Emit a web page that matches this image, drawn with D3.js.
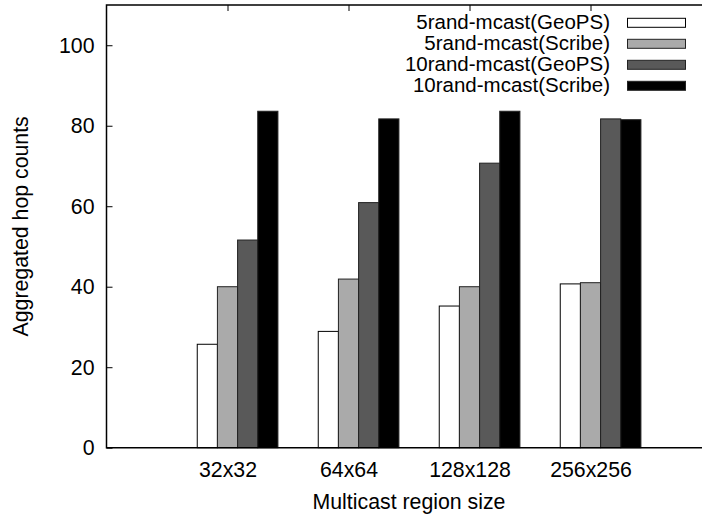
<!DOCTYPE html>
<html>
<head>
<meta charset="utf-8">
<script src="https://cdn.jsdelivr.net/npm/d3@7"></script>
<style>
  html, body { margin: 0; padding: 0; background: #fff; }
  svg { display: block; }
  text { font-family: "Liberation Sans", Arial, Helvetica, sans-serif; fill: #000; }
</style>
</head>
<body>
<svg id="chart" width="702" height="519"></svg>
<script>
// Region sizes on the x axis
const categories = ["32x32", "64x64", "128x128", "256x256"];

// Aggregated hop counts per series
const rand5GeoPS   = [25.7, 28.9, 35.2, 40.7];
const rand5Scribe  = [40.0, 41.9, 40.0, 41.0];
const rand10GeoPS  = [51.6, 60.9, 70.7, 81.7];
const rand10Scribe = [83.6, 81.7, 83.6, 81.5];

const seriesNames = [
  "5rand-mcast(GeoPS)",
  "5rand-mcast(Scribe)",
  "10rand-mcast(GeoPS)",
  "10rand-mcast(Scribe)"
];
const yTicks = [0, 20, 40, 60, 80, 100];

const seriesValues = [rand5GeoPS, rand5Scribe, rand10GeoPS, rand10Scribe];
const fills = ["#ffffff", "#aaaaaa", "#595959", "#000000"];

const svg = d3.select("#chart");
const fontSize = 21.3;
const legendFontSize = 20.5;

// Plot frame (the right side runs past the visible canvas)
const frameL = 106.5, frameR = 711.5, frameT = 5, frameB = 447.7;

// Category i sits at x = i; the frame spans from -1 to 4
const x = d3.scaleLinear().domain([-1, categories.length]).range([frameL, frameR]);
const y = d3.scaleLinear().domain([0, 110]).range([frameB, frameT]);

const step = x(1) - x(0);
const barW = step / 6; // four bars plus a gap of two bar widths

// Inward ticks on the left axis, labels outside
const yAxis = d3.axisLeft(y).tickValues(yTicks).tickSize(-6).tickPadding(12).tickFormat(d3.format("d"));
const gy = svg.append("g").attr("transform", `translate(${frameL},0)`).call(yAxis);
gy.select(".domain").remove();
gy.selectAll("line").attr("stroke", "#000").attr("stroke-width", 1);
gy.selectAll("text").attr("font-size", fontSize).attr("font-family", null);

// Category ticks, mirrored on the top border
const catIdx = d3.range(categories.length);
const xAxisB = d3.axisBottom(x).tickValues(catIdx).tickSize(-6).tickPadding(14)
  .tickFormat(i => categories[i]);
const gx = svg.append("g").attr("transform", `translate(0,${frameB})`).call(xAxisB);
gx.select(".domain").remove();
gx.selectAll("line").attr("stroke", "#000").attr("stroke-width", 1);
gx.selectAll("text").attr("font-size", fontSize).attr("font-family", null);

const xAxisT = d3.axisTop(x).tickValues(catIdx).tickSize(-6).tickFormat("");
const gxt = svg.append("g").attr("transform", `translate(0,${frameT})`).call(xAxisT);
gxt.select(".domain").remove();
gxt.selectAll("line").attr("stroke", "#000").attr("stroke-width", 1);

// Bars
seriesValues.forEach((vals, j) => {
  svg.append("g")
    .selectAll("rect")
    .data(vals)
    .join("rect")
    .attr("x", (d, i) => x(i) + (j - 1.5) * barW)
    .attr("width", barW)
    .attr("y", d => y(d))
    .attr("height", d => y(0) - y(d))
    .attr("fill", fills[j])
    .attr("stroke", j === 0 ? "#000" : "#222")
    .attr("stroke-width", 1);
});

// Border
svg.append("path")
  .attr("d", `M${frameR},${frameT}H${frameL}V${frameB}H${frameR}`)
  .attr("fill", "none")
  .attr("stroke", "#000")
  .attr("stroke-width", 1.5);

// Axis titles
svg.append("text")
  .attr("x", (frameL + frameR) / 2)
  .attr("y", 509)
  .attr("text-anchor", "middle")
  .attr("font-size", fontSize)
  .text("Multicast region size");

svg.append("text")
  .attr("transform", `translate(27.5,${(frameT + frameB) / 2}) rotate(-90)`)
  .attr("text-anchor", "middle")
  .attr("font-size", fontSize)
  .text("Aggregated hop counts");

// Legend
const legend = svg.append("g");
seriesNames.forEach((name, j) => {
  const cy = 22.8 + j * 21;
  legend.append("text")
    .attr("x", 610)
    .attr("y", cy + 6.5)
    .attr("text-anchor", "end")
    .attr("font-size", legendFontSize)
    .text(name);
  legend.append("rect")
    .attr("x", 627.5)
    .attr("y", cy - 4.5)
    .attr("width", 58)
    .attr("height", 9)
    .attr("fill", fills[j])
    .attr("stroke", j === 0 ? "#000" : "#222")
    .attr("stroke-width", 1);
});
</script>
</body>
</html>
